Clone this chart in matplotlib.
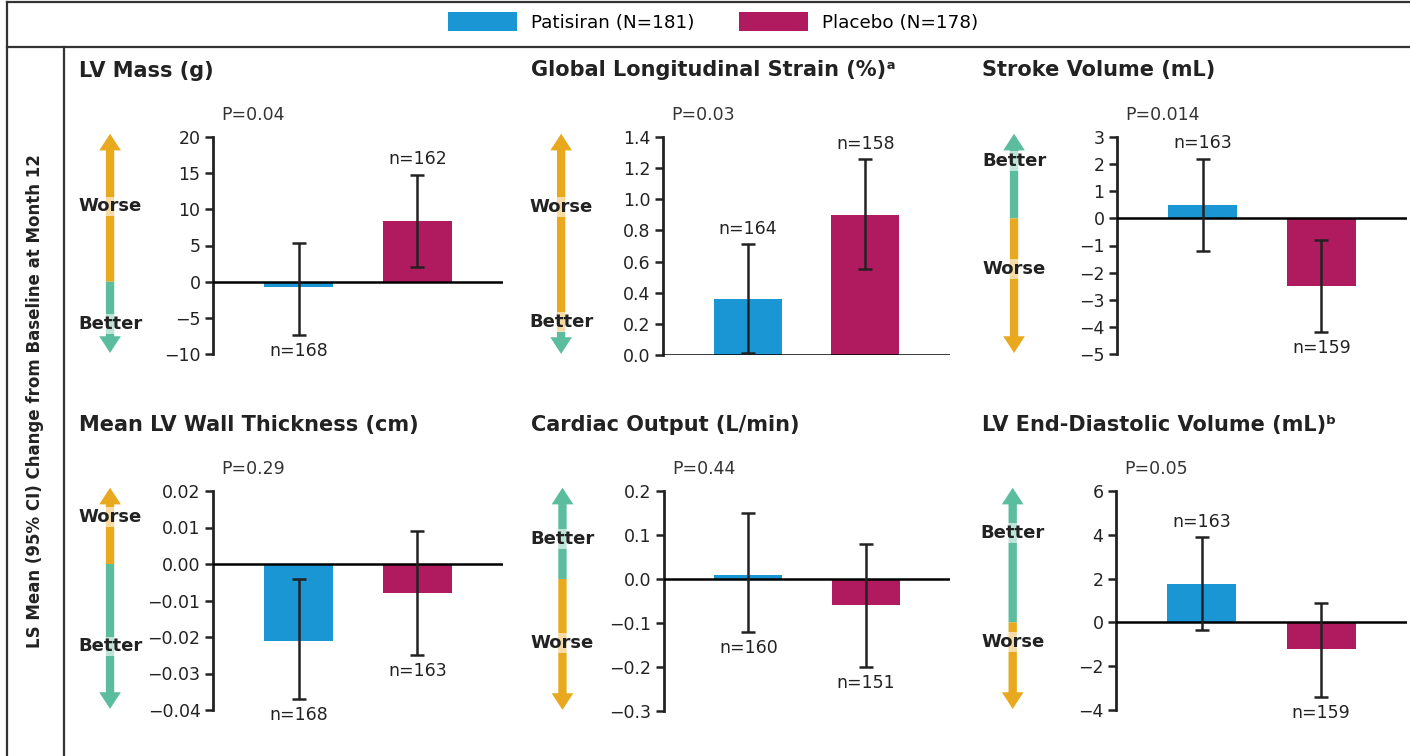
import matplotlib.pyplot as plt
from matplotlib.lines import Line2D
from matplotlib.patches import Patch

# ---- data ----
groups = ["Patisiran (N=181)", "Placebo (N=178)"]
titles = ["LV Mass (g)", "Global Longitudinal Strain (%)\u1d43", "Stroke Volume (mL)",
          "Mean LV Wall Thickness (cm)", "Cardiac Output (L/min)",
          "LV End-Diastolic Volume (mL)\u1d47"]
p_values = ["P=0.04", "P=0.03", "P=0.014", "P=0.29", "P=0.44", "P=0.05"]

patisiran_mean = [-0.8, 0.36, 0.5, -0.021, 0.01, 1.75]
patisiran_lo = [-7.4, 0.01, -1.2, -0.037, -0.12, -0.35]
patisiran_hi = [5.3, 0.71, 2.2, -0.004, 0.15, 3.9]
patisiran_n = [168, 164, 163, 168, 160, 163]

placebo_mean = [8.4, 0.90, -2.5, -0.008, -0.06, -1.2]
placebo_lo = [2.0, 0.55, -4.2, -0.025, -0.20, -3.4]
placebo_hi = [14.8, 1.26, -0.8, 0.009, 0.08, 0.9]
placebo_n = [162, 158, 159, 163, 151, 159]

yticks = [[-10, -5, 0, 5, 10, 15, 20],
          [0.0, 0.2, 0.4, 0.6, 0.8, 1.0, 1.2, 1.4],
          [-5, -4, -3, -2, -1, 0, 1, 2, 3],
          [-0.04, -0.03, -0.02, -0.01, 0.0, 0.01, 0.02],
          [-0.3, -0.2, -0.1, 0.0, 0.1, 0.2],
          [-4, -2, 0, 2, 4, 6]]
ytick_labels = [["\u221210", "\u22125", "0", "5", "10", "15", "20"],
                ["0.0", "0.2", "0.4", "0.6", "0.8", "1.0", "1.2", "1.4"],
                ["\u22125", "\u22124", "\u22123", "\u22122", "\u22121", "0", "1", "2", "3"],
                ["\u22120.04", "\u22120.03", "\u22120.02", "\u22120.01", "0.00", "0.01", "0.02"],
                ["\u22120.3", "\u22120.2", "\u22120.1", "0.0", "0.1", "0.2"],
                ["\u22124", "\u22122", "0", "2", "4", "6"]]

# which end of the scale is better
upper_is = ["Worse", "Worse", "Better", "Worse", "Better", "Better"]
arrow_split = [0, 0.15, 0, 0, 0, 0]
pat_label_side = ["below", "above", "above", "below", "below", "above"]
plc_label_side = ["above", "above", "below", "below", "below", "below"]

# ---- layout / style ----
BLUE = "#1a96d5"
MAGENTA = "#b01b5f"
YELLOW = "#e9a91e"
GREEN = "#5bbd9e"
DARK = "#222222"
W, H = 1410, 756

boxes = [(213, 137, 503, 354), (663, 137, 950, 355), (1117, 137, 1407, 354),
         (213, 491, 503, 710), (664, 491, 950, 711), (1116, 491, 1407, 710)]
title_pos = [(79, 71), (531, 70), (982, 70), (79, 425), (531, 425), (982, 425)]
label_frac = [(0.68, 0.14), (0.68, 0.15), (0.89, 0.39),
              (0.88, 0.29), (0.78, 0.31), (0.81, 0.31)]

fig = plt.figure(figsize=(14.1, 7.56), dpi=100)

for i in range(6):
    x0, y0, x1, y1 = boxes[i]
    ax = fig.add_axes([x0 / W, 1 - y1 / H, (x1 - x0) / W, (y1 - y0) / H])
    ymin, ymax = yticks[i][0], yticks[i][-1]

    means = [patisiran_mean[i], placebo_mean[i]]
    lo = [patisiran_lo[i], placebo_lo[i]]
    hi = [patisiran_hi[i], placebo_hi[i]]
    ax.bar([0, 1], means, width=0.58, color=[BLUE, MAGENTA], zorder=2)
    ax.errorbar([0, 1], means,
                yerr=[[m - l for m, l in zip(means, lo)], [h - m for m, h in zip(means, hi)]],
                fmt="none", ecolor=DARK, elinewidth=1.8, capsize=5, capthick=1.8, zorder=4)
    ax.axhline(0, color="black", lw=1.8, zorder=3)

    for xb, n, side, l, h in [(0, patisiran_n[i], pat_label_side[i], lo[0], hi[0]),
                              (1, placebo_n[i], plc_label_side[i], lo[1], hi[1])]:
        yb = h if side == "above" else l
        off = 11 if side == "above" else -11.5
        ax.annotate(f"n={n}", (xb, yb), xytext=(0, off), textcoords="offset points",
                    ha="center", va="center", fontsize=12.5, color=DARK,
                    annotation_clip=False)

    ax.set_xlim(-0.72, 1.72)
    ax.set_ylim(ymin, ymax)
    ax.set_xticks([])
    ax.set_yticks(yticks[i])
    ax.set_yticklabels(ytick_labels[i])
    ax.tick_params(axis="y", length=6, width=1.8, labelsize=12.5, colors=DARK, pad=3)
    for s in ["top", "right", "bottom"]:
        ax.spines[s].set_visible(False)
    ax.spines["left"].set_linewidth(2)
    ax.spines["left"].set_color(DARK)
    ax.patch.set_alpha(0)

    ax.text(0.03, 1.10, p_values[i], transform=ax.transAxes, ha="left", va="center",
            fontsize=12.5, color="#333333")

    # better / worse arrow
    ax_x = -0.355
    split = (arrow_split[i] - ymin) / (ymax - ymin)
    if upper_is[i] == "Worse":
        up_col, low_col, up_txt, low_txt = YELLOW, GREEN, "Worse", "Better"
    else:
        up_col, low_col, up_txt, low_txt = GREEN, YELLOW, "Better", "Worse"
    style = "simple,head_length=1.0,head_width=1.3,tail_width=0.5"
    for end, col in [(1.015, up_col), (0.005, low_col)]:
        ax.annotate("", xy=(ax_x, end), xytext=(ax_x, split), xycoords="axes fraction",
                    textcoords="axes fraction", annotation_clip=False, zorder=3,
                    arrowprops=dict(arrowstyle=style, color=col, lw=0,
                                    mutation_scale=12, shrinkA=0, shrinkB=0))
    for frac, txt in [(label_frac[i][0], up_txt), (label_frac[i][1], low_txt)]:
        ax.text(ax_x, frac, txt, transform=ax.transAxes, ha="center", va="center",
                fontsize=13, fontweight="bold", color=DARK, zorder=6,
                bbox=dict(boxstyle="square,pad=0.05", fc="white", ec="none", alpha=0.6))

    tx, ty = title_pos[i]
    fig.text(tx / W, 1 - ty / H, titles[i], ha="left", va="center", fontsize=15,
             fontweight="bold", color=DARK)

# y label and frame lines
fig.text(35 / W, 1 - 401 / H, "LS Mean (95% CI) Change from Baseline at Month 12",
         rotation=90, ha="center", va="center", fontsize=12, fontweight="bold", color=DARK)

frame = [((7, 1410), (2, 2)), ((7, 1410), (47, 47)), ((7, 7), (2, 756)), ((64, 64), (47, 756))]
for xs, ys in frame:
    fig.add_artist(Line2D([x / W for x in xs], [1 - y / H for y in ys], color="#333333", lw=1.6))

handles = [Patch(facecolor=BLUE, edgecolor="none"), Patch(facecolor=MAGENTA, edgecolor="none")]
fig.legend(handles, groups, loc="center", bbox_to_anchor=(713 / W, 1 - 22 / H), ncol=2,
           frameon=False, fontsize=13.2, handlelength=3.8, handleheight=1.15,
           handletextpad=0.76, columnspacing=2.4)

fig.savefig("out.png", dpi=100)
